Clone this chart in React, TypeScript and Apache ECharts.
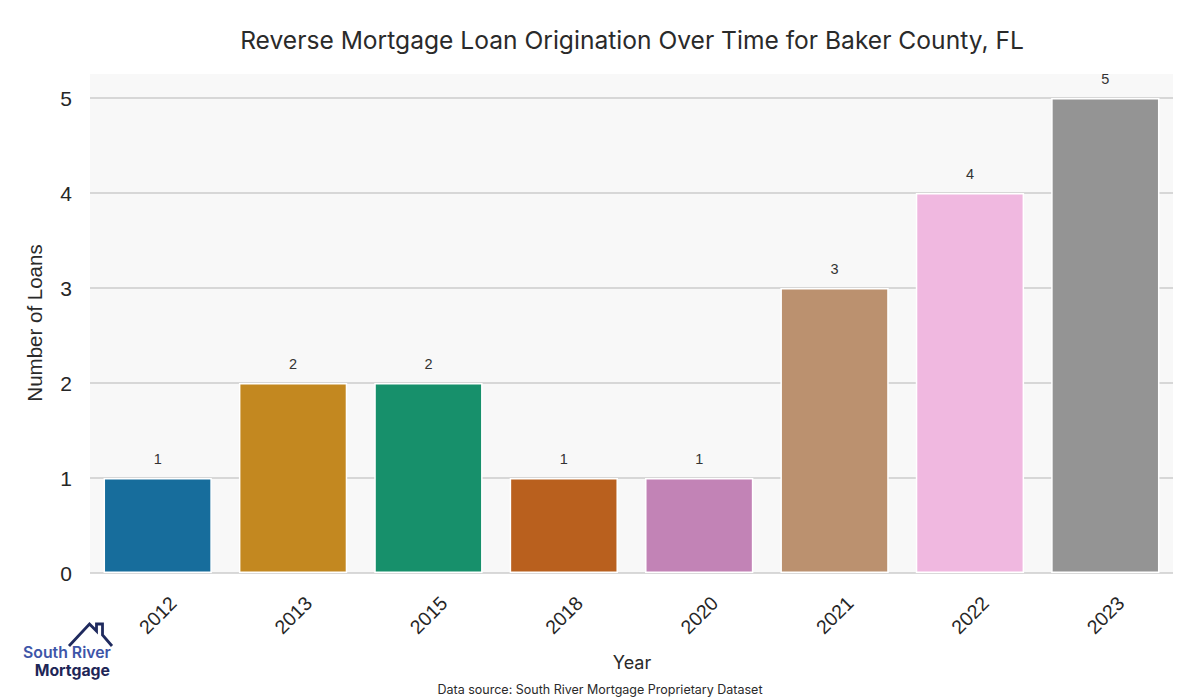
import React, { useEffect, useRef } from "react";
import * as echarts from "echarts";

const years = ["2012", "2013", "2015", "2018", "2020", "2021", "2022", "2023"];
const loans = [1, 2, 2, 1, 1, 3, 4, 5];
const barColors = ["#176d9c", "#c38820", "#17906b", "#b9601e", "#c283b6", "#bb916f", "#f0b8e0", "#949494"];
const yTicks = [0, 1, 2, 3, 4, 5];

const titleText = "Reverse Mortgage Loan Origination Over Time for Baker County, FL";
const xName = "Year";
const yName = "Number of Loans";
const sourceText = "Data source: South River Mortgage Proprietary Dataset";

export default function App() {
  const ref = useRef<HTMLDivElement>(null);
  useEffect(() => {
    if (!ref.current) return;
    const chart = echarts.init(ref.current, null, { renderer: "svg" });
    const sans = "Liberation Sans, Arial, sans-serif";
    const geo = "Inter, Lato, sans-serif";
    chart.setOption({
      animation: false,
      backgroundColor: "#ffffff",
      grid: { left: 90, right: 27, top: 98, bottom: 127, show: false },
      xAxis: {
        type: "category",
        data: years,
        axisLine: { show: false },
        axisTick: { show: false },
        axisLabel: {
          rotate: 45,
          align: "center",
          verticalAlign: "middle",
          margin: 42,
          fontSize: 19.5,
          color: "#262626",
          fontFamily: sans,
        },
      },
      yAxis: {
        type: "value",
        min: yTicks[0],
        max: yTicks[yTicks.length - 1],
        interval: 1,
        axisLine: { show: false },
        axisTick: { show: false },
        axisLabel: { fontSize: 21, color: "#262626", margin: 18, fontFamily: sans },
        splitLine: { show: true, lineStyle: { color: "#cccccc", width: 1.6 } },
      },
      graphic: [
        { type: "rect", z: -10, silent: true, shape: { x: 90, y: 74, width: 1083, height: 499 }, style: { fill: "#f8f8f8" } },
        { type: "text", x: 632, y: 40, style: { text: titleText, fontSize: 24.6, fontFamily: geo, fill: "#2a2a2a", textAlign: "center", textVerticalAlign: "middle" } },
        { type: "text", x: 632, y: 662, style: { text: xName, fontSize: 18, fontFamily: geo, fill: "#2a2a2a", textAlign: "center", textVerticalAlign: "middle" } },
        { type: "text", x: 34, y: 323, rotation: Math.PI / 2, style: { text: yName, fontSize: 20.5, fontFamily: sans, fill: "#2a2a2a", textAlign: "center", textVerticalAlign: "middle" } },
        { type: "text", x: 600, y: 689, style: { text: sourceText, fontSize: 12.5, fontFamily: geo, fill: "#2a2a2a", textAlign: "center", textVerticalAlign: "middle" } },
        {
          type: "polyline",
          shape: { points: [[69, 646], [89.5, 624], [96.5, 631], [96.5, 624], [102.5, 624], [102.5, 635], [112, 646]] },
          style: { stroke: "#1f2a5e", lineWidth: 2.8, fill: null, lineJoin: "miter" },
        },
        { type: "text", x: 23, y: 652, style: { text: "South River", fontSize: 15.8, fontWeight: 600, fontFamily: geo, fill: "#3d55a8", textAlign: "left", textVerticalAlign: "middle" } },
        { type: "text", x: 110, y: 670, style: { text: "Mortgage", fontSize: 15.8, fontWeight: 700, fontFamily: geo, fill: "#1e2657", textAlign: "right", textVerticalAlign: "middle" } },
      ],
      series: [
        {
          type: "bar",
          barCategoryGap: "20%",
          data: loans.map((v, i) => ({ value: v, itemStyle: { color: barColors[i] } })),
          itemStyle: { borderColor: "#ffffff", borderWidth: 1.5 },
          label: { show: true, position: "top", distance: 12, fontSize: 14.5, color: "#333333", fontFamily: sans },
        },
      ],
    });
    return () => chart.dispose();
  }, []);
  return <div ref={ref} style={{ position: "fixed", left: 0, top: 0, width: 1200, height: 700 }} />;
}
